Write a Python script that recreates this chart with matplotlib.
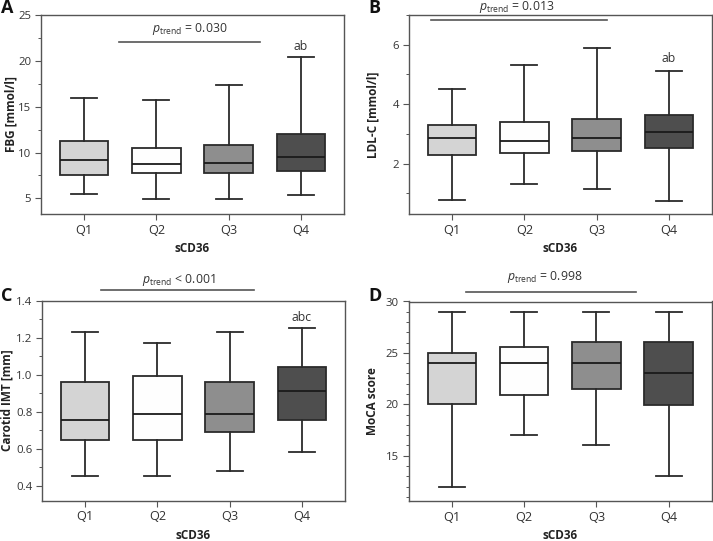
import matplotlib
matplotlib.use("Agg")
import matplotlib.pyplot as plt
from matplotlib.ticker import MultipleLocator

plt.rcParams['font.family'] = ['Open Sans', 'DejaVu Sans']
plt.rcParams['mathtext.fontset'] = 'custom'
plt.rcParams['mathtext.it'] = 'Open Sans:italic'
plt.rcParams['mathtext.rm'] = 'Open Sans'

categories = ["Q1", "Q2", "Q3", "Q4"]
xlabel = "sCD36"

# each: [whislo, q1, med, q3, whishi] per quartile group
fbg = [[5.5, 7.55, 9.2, 11.25, 16.0],
       [4.9, 7.75, 8.75, 10.55, 15.7],
       [4.9, 7.75, 8.85, 10.85, 17.4],
       [5.4, 7.95, 9.5, 12.05, 20.45]]
ldl = [[0.77, 2.27, 2.86, 3.30, 4.51],
       [1.31, 2.36, 2.77, 3.40, 5.30],
       [1.15, 2.43, 2.86, 3.50, 5.89],
       [0.75, 2.52, 3.07, 3.64, 5.12]]
imt = [[0.45, 0.645, 0.757, 0.958, 1.229],
       [0.45, 0.647, 0.789, 0.994, 1.172],
       [0.481, 0.689, 0.789, 0.962, 1.229],
       [0.58, 0.756, 0.910, 1.039, 1.249]]
moca = [[12.0, 20.0, 24.0, 25.0, 29.0],
        [17.0, 20.9, 24.0, 25.6, 29.0],
        [16.0, 21.5, 24.0, 26.1, 29.0],
        [13.0, 19.9, 23.0, 26.1, 29.0]]

p_texts = [r"$p_{\mathrm{trend}}$ = 0.030", r"$p_{\mathrm{trend}}$ = 0.013",
           r"$p_{\mathrm{trend}}$ < 0.001", r"$p_{\mathrm{trend}}$ = 0.998"]
sig_labels = ["ab", "ab", "abc", ""]
ylabels = ["FBG [mmol/l]", "LDL-C [mmol/l]", "Carotid IMT [mm]", "MoCA score"]
panel_letters = ["A", "B", "C", "D"]

fills = ["#d4d4d4", "#fefefe", "#8e8e8e", "#4e4e4e"]
edge = "#2b2b2b"
axcol = "#555555"
txtcol = "#333333"

fig = plt.figure(figsize=(7.13, 5.41), dpi=100)

W, H = 713, 541
def rect(l, r, t, b):
    return [l / W, 1 - b / H, (r - l) / W, (b - t) / H]

axes_px = [(41, 344, 15, 214), (409, 712, 15, 214),
           (42, 345, 300.5, 500.5), (408.5, 712, 301.5, 501)]

configs = [
    dict(data=fbg, ylim=(3.3, 25), major=5, minor=2.5, fmt="{:.0f}",
         line=(1.48, 3.44, 22.1), text=(2.46, 23.5), sig=21.55, ylc=-0.076),
    dict(data=ldl, ylim=(0.3, 7.0), major=2, minor=1, fmt="{:.0f}",
         line=(0.71, 3.14, 6.83), text=(1.90, 7.28), sig=5.53, ylc=-0.096),
    dict(data=imt, ylim=(0.32, 1.4), major=0.2, minor=0.1, fmt="{:.1f}",
         line=(1.22, 3.34, 1.459), text=(2.30, 1.51), sig=1.31, ylc=-0.094),
    dict(data=moca, ylim=(10.6, 30), major=5, minor=1, fmt="{:.0f}",
         line=(1.19, 3.55, 30.97), text=(2.28, 32.4), sig=None, ylc=-0.097),
]

for i, cfg in enumerate(configs):
    ax = fig.add_axes(rect(*axes_px[i]))
    stats = []
    for cat, v in zip(categories, cfg["data"]):
        stats.append(dict(label=cat, whislo=v[0], q1=v[1], med=v[2], q3=v[3],
                          whishi=v[4], fliers=[]))
    bp = ax.bxp(stats, positions=[1, 2, 3, 4], widths=0.67, patch_artist=True,
                showfliers=False, capwidths=0.36,
                boxprops=dict(edgecolor=edge, linewidth=1.3),
                medianprops=dict(color="#1a1a1a", linewidth=1.3),
                whiskerprops=dict(color=edge, linewidth=1.3),
                capprops=dict(color=edge, linewidth=1.3))
    for patch, c in zip(bp["boxes"], fills):
        patch.set_facecolor(c)
    ax.set_xlim(0.4, 4.6)
    ax.set_ylim(*cfg["ylim"])
    ax.yaxis.set_major_locator(MultipleLocator(cfg["major"]))
    ax.yaxis.set_minor_locator(MultipleLocator(cfg["minor"]))
    ax.set_yticks([t for t in ax.get_yticks() if cfg["ylim"][0] <= t <= cfg["ylim"][1] + 1e-9])
    ax.set_yticklabels([cfg["fmt"].format(t) for t in ax.get_yticks()])
    for s in ax.spines.values():
        s.set_color(axcol)
        s.set_linewidth(1.0)
    ax.tick_params(axis="both", which="major", length=4, width=0.8, color=axcol,
                   labelcolor=txtcol, pad=3)
    ax.tick_params(axis="y", which="major", labelsize=8.2)
    ax.tick_params(axis="x", which="major", labelsize=9.2, pad=3)
    ax.tick_params(axis="y", which="minor", length=2.5, width=0.7, color=axcol)
    ax.set_xlabel(xlabel, fontsize=8.5, fontweight="bold", color="#222222", labelpad=4)
    ax.set_ylabel(ylabels[i], fontsize=8.5, fontweight="bold", color="#222222")
    ax.yaxis.set_label_coords(cfg["ylc"], 0.5)

    x0, x1, yl = cfg["line"]
    ax.plot([x0, x1], [yl, yl], color=axcol, lw=1.2, clip_on=False)
    tx, ty = cfg["text"]
    ax.text(tx, ty, p_texts[i], ha="center", va="center", fontsize=8.8,
            color=txtcol, clip_on=False)
    if cfg["sig"] is not None:
        ax.text(4, cfg["sig"], sig_labels[i], ha="center", va="center",
                fontsize=8.8, color=txtcol)

letter_pos = [(1, 8), (368, 8), (1, 296), (368, 296)]
for L, (px, py) in zip(panel_letters, letter_pos):
    fig.text(px / W, 1 - py / H, L, fontsize=13, fontweight="bold",
             color="#111111", ha="left", va="center")

fig.savefig("out.png", dpi=100)
